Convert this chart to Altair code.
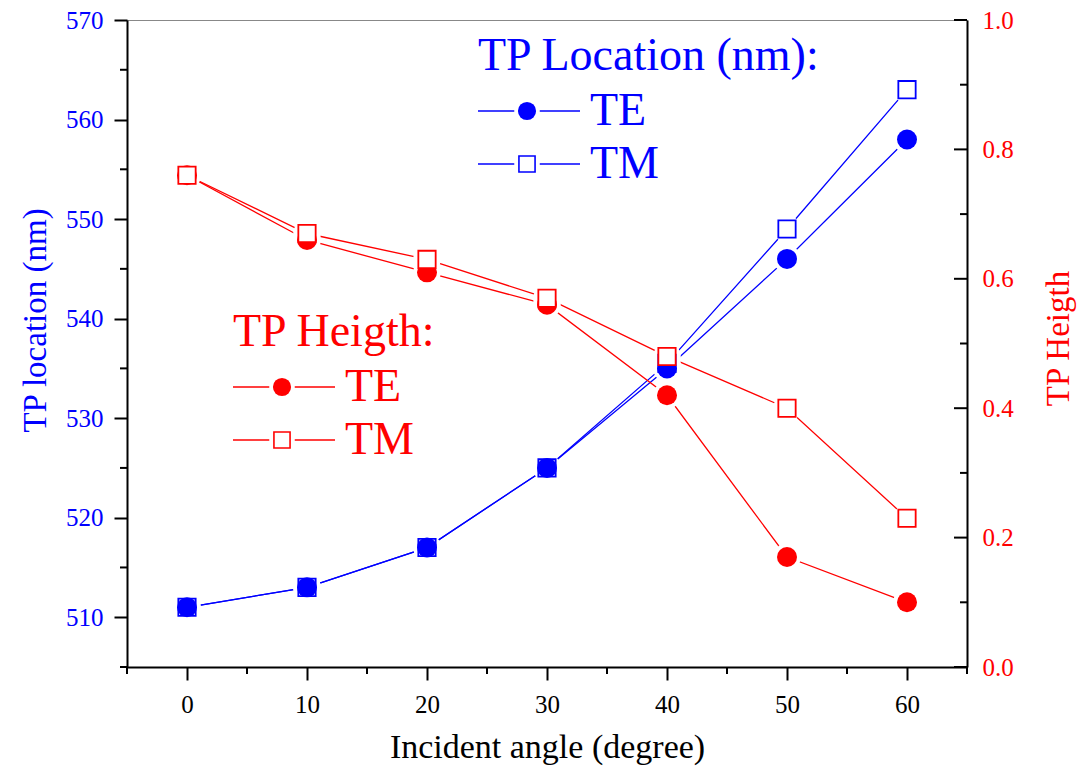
import altair as alt
import pandas as pd

# Incident angle (degree)
angle = [0, 10, 20, 30, 40, 50, 60]

# TP location (nm)
loc_te = [511, 513, 517, 525, 535, 546, 558]
loc_tm = [511, 513, 517, 525, 535.5, 549, 563]

# TP height (a.u.)
hgt_te = [0.76, 0.66, 0.61, 0.56, 0.42, 0.17, 0.10]
hgt_tm = [0.76, 0.67, 0.63, 0.57, 0.48, 0.40, 0.23]

# axis tick positions
x_major = [0, 10, 20, 30, 40, 50, 60]
x_minor = [-5, 5, 15, 25, 35, 45, 55, 65]
loc_major = [510, 520, 530, 540, 550, 560, 570]
loc_minor = [505, 515, 525, 535, 545, 555, 565]
hgt_major = [0.0, 0.2, 0.4, 0.6, 0.8, 1.0]
hgt_minor = [0.1, 0.3, 0.5, 0.7, 0.9]

BLUE = "#0000FF"
RED = "#FF0000"
FONT = "Liberation Serif"
W, H = 840, 647
MAJ, MIN = 13, 7

loc = pd.DataFrame({"angle": angle, "te": loc_te, "tm": loc_tm})
hgt = pd.DataFrame({"angle": angle, "te": hgt_te, "tm": hgt_tm})

xs = alt.Scale(domain=[-5, 65], nice=False, zero=False)
ys_loc = alt.Scale(domain=[505, 570], nice=False, zero=False)
ys_hgt = alt.Scale(domain=[0, 1], nice=False, zero=False)

axis_common = dict(
    grid=False, domainColor="black", domainWidth=2, tickColor="black",
    tickWidth=2, labelFont=FONT, titleFont=FONT,
    titleFontWeight="normal", labelFlush=False, labelOverlap=False,
)

x_axis = alt.Axis(
    values=x_major, labelFontSize=25, labelColor="black", labelPadding=12,
    labelBaseline="top", tickSize=MAJ, title="Incident angle (degree)",
    titleFontSize=34, titleColor="black", titleBaseline="middle", titleY=80,
    **axis_common,
)
loc_axis = alt.Axis(
    orient="left", values=loc_major, labelFontSize=25, labelColor=BLUE,
    labelPadding=11, tickSize=MAJ, title="TP location (nm)", titleFontSize=33,
    titleColor=BLUE, titleBaseline="middle", titleX=-92, titleY=300,
    **axis_common,
)
hgt_axis = alt.Axis(
    orient="right", values=hgt_major, format=".1f", labelFontSize=25,
    labelColor=RED, labelPadding=15, ticks=False, title="TP Heigth",
    titleFontSize=33, titleColor=RED, titleAngle=270, titleBaseline="middle",
    titleX=91, titleY=318, **axis_common,
)


def xe(field="angle"):
    return alt.X(f"{field}:Q", scale=xs, axis=x_axis)


def series_line(df, field, scale, color, axis=None):
    return alt.Chart(df).mark_line(color=color, strokeWidth=1.3).encode(
        x=xe(), y=alt.Y(f"{field}:Q", scale=scale, axis=axis)
    )


def halo(df, field, scale):
    return alt.Chart(df).mark_circle(color="white", opacity=1, size=760).encode(
        x=xe(), y=alt.Y(f"{field}:Q", scale=scale, axis=None)
    )


def dots(df, field, scale, color):
    return alt.Chart(df).mark_circle(color=color, opacity=1, size=400).encode(
        x=xe(), y=alt.Y(f"{field}:Q", scale=scale, axis=None)
    )


def squares(df, field, scale, color):
    return alt.Chart(df).mark_square(
        fill="white", stroke=color, strokeWidth=1.8, size=300, opacity=1
    ).encode(x=xe(), y=alt.Y(f"{field}:Q", scale=scale, axis=None))


# connecting lines
lines = [
    series_line(loc, "te", ys_loc, BLUE, axis=loc_axis),
    series_line(loc, "tm", ys_loc, BLUE),
    series_line(hgt, "te", ys_hgt, RED, axis=hgt_axis),
    series_line(hgt, "tm", ys_hgt, RED),
]

# white gaps around symbols
halos = [
    halo(loc, "te", ys_loc), halo(loc, "tm", ys_loc),
    halo(hgt, "te", ys_hgt), halo(hgt, "tm", ys_hgt),
]

symbols = [
    squares(loc, "tm", ys_loc, BLUE),
    dots(loc, "te", ys_loc, BLUE),
    dots(hgt, "te", ys_hgt, RED),
    squares(hgt, "tm", ys_hgt, RED),
]

# minor ticks (and the inward major ticks of the right axis)
xm = pd.DataFrame({"v": x_minor})
lm = pd.DataFrame({"v": loc_minor})
hm = pd.DataFrame({"v": hgt_minor})
hM = pd.DataFrame({"v": hgt_major})
ticks = [
    alt.Chart(xm).mark_rule(color="black", strokeWidth=2).encode(
        x=xe("v"), y=alt.value(H), y2=alt.value(H + MIN)
    ),
    alt.Chart(lm).mark_rule(color="black", strokeWidth=2).encode(
        y=alt.Y("v:Q", scale=ys_loc, axis=None), x=alt.value(-MIN), x2=alt.value(0)
    ),
    alt.Chart(hm).mark_rule(color="black", strokeWidth=2).encode(
        y=alt.Y("v:Q", scale=ys_hgt, axis=None), x=alt.value(W - MIN), x2=alt.value(W)
    ),
    alt.Chart(hM).mark_rule(color="black", strokeWidth=2).encode(
        y=alt.Y("v:Q", scale=ys_hgt, axis=None), x=alt.value(W - MAJ), x2=alt.value(W)
    ),
]

# in-plot legends
one = pd.DataFrame({"k": [0]})


def label(txt, color, x, y):
    return alt.Chart(one).mark_text(
        text=txt, align="left", baseline="middle", font=FONT, fontSize=46,
        color=color,
    ).encode(x=alt.value(x), y=alt.value(y))


def legend_block(title, color, x0, y0):
    out = [label(title, color, x0, y0)]
    for i, (name, shape) in enumerate([("TE", "dot"), ("TM", "square")]):
        yy = y0 + 55 + 53 * i
        out.append(
            alt.Chart(one).mark_rule(color=color, strokeWidth=1.3).encode(
                x=alt.value(x0), x2=alt.value(x0 + 102), y=alt.value(yy)
            )
        )
        out.append(
            alt.Chart(one).mark_point(
                shape="square", filled=True, color="white", opacity=1, size=650
            ).encode(x=alt.value(x0 + 49), y=alt.value(yy))
        )
        if shape == "dot":
            out.append(
                alt.Chart(one).mark_circle(color=color, opacity=1, size=330).encode(
                    x=alt.value(x0 + 49), y=alt.value(yy)
                )
            )
        else:
            out.append(
                alt.Chart(one).mark_square(
                    fill="white", stroke=color, strokeWidth=1.6, size=260, opacity=1
                ).encode(x=alt.value(x0 + 49), y=alt.value(yy))
            )
        out.append(label(name, color, x0 + 112, yy))
    return out


legends = legend_block("TP Location (nm):", BLUE, 351, 36) + legend_block(
    "TP Heigth:", RED, 106, 312
)

chart = (
    alt.layer(*lines, *halos, *symbols, *ticks, *legends)
    .resolve_scale(y="independent")
    .properties(
        width=W,
        height=H,
        autosize=alt.AutoSizeParams(type="none"),
        padding={"left": 127, "top": 20, "right": 113, "bottom": 103},
        background="white",
    )
    .configure_axis(labelFont=FONT, titleFont=FONT)
    .configure_text(font=FONT)
    .configure_view(stroke="#888888", strokeWidth=1)
)

chart.save("out.html", embed_options={"renderer": "svg", "actions": False})
